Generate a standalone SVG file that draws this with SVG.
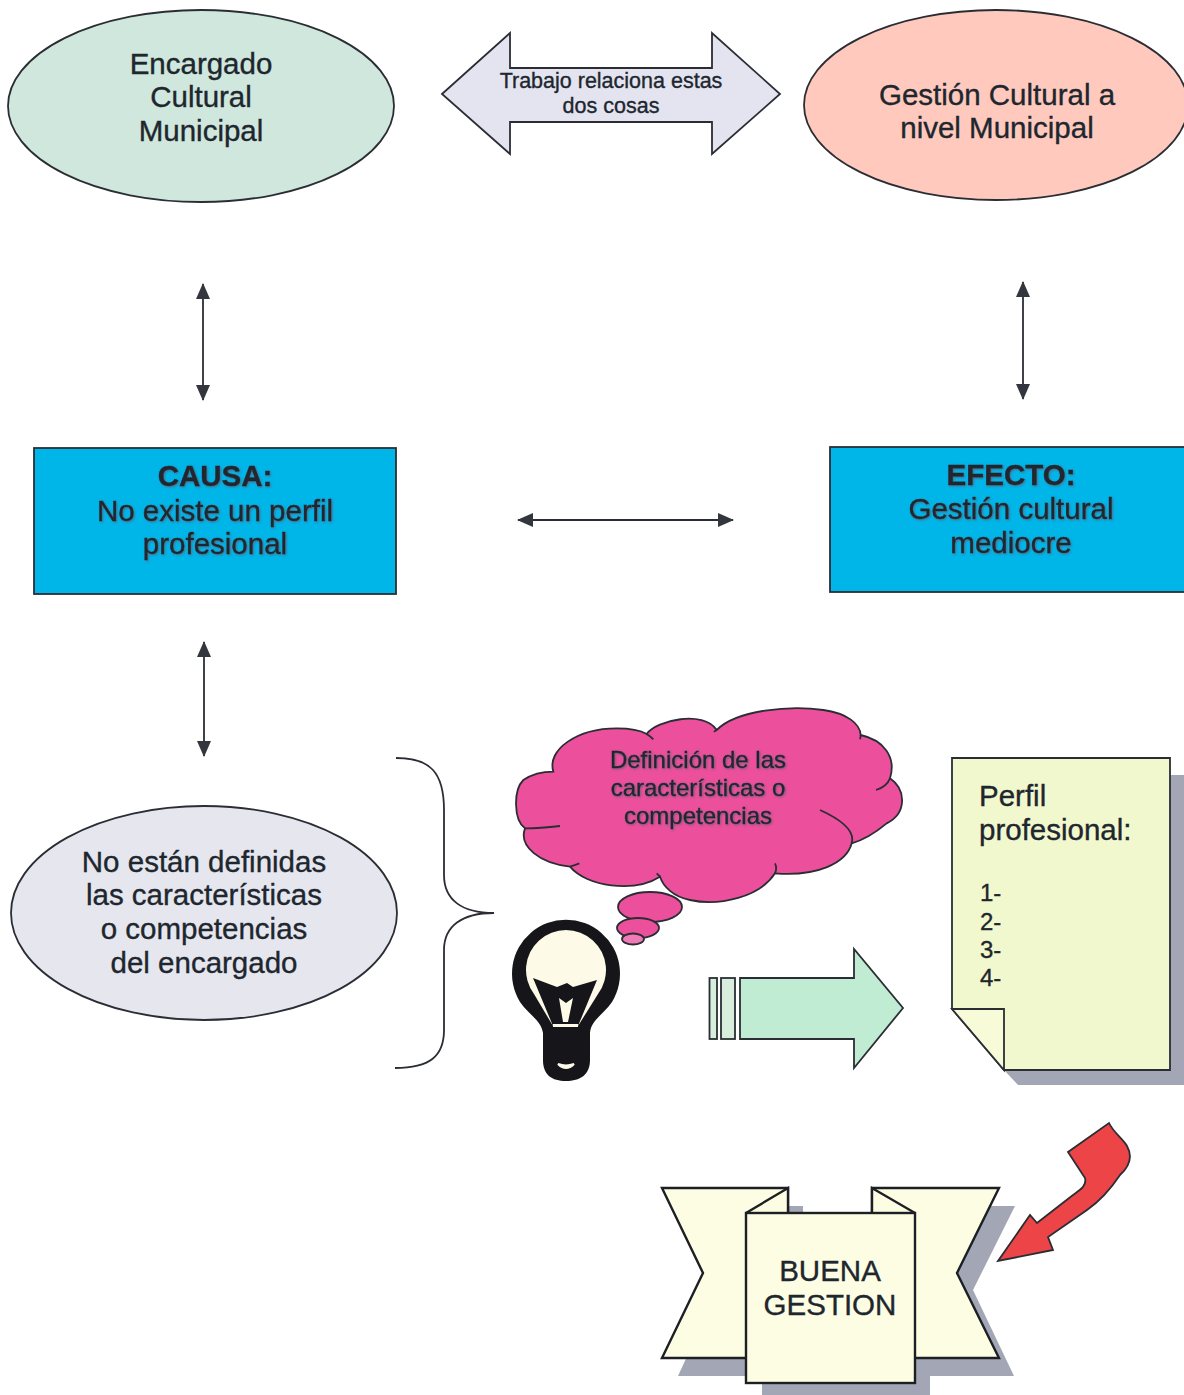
<svg xmlns="http://www.w3.org/2000/svg" width="1184" height="1395" viewBox="0 0 1184 1395">
<defs>
<style>
text{font-family:"Liberation Sans",Arial,sans-serif;fill:#20262e;text-anchor:middle;stroke:#20262e;stroke-width:.35px}
.o{stroke:#2a2e34;stroke-width:1.8;stroke-linejoin:miter}
.t{stroke:#1c1f24;stroke-width:2.4;stroke-linejoin:miter}
.c{fill:none;stroke:#2a2e34;stroke-width:1.8}
.l{font-size:29.5px}
.s{font-size:21.5px}
.n{font-size:24px}
.sh{filter:url(#blur)}
.shadow{fill:#a3a7b5}
</style>
<filter id="blur" x="-10%" y="-20%" width="120%" height="140%"><feDropShadow dx="1" dy="1" stdDeviation="1" flood-color="#5a5a70" flood-opacity=".8"/></filter>
<marker id="a" markerWidth="18" markerHeight="14" refX="15" refY="7" orient="auto-start-reverse" markerUnits="userSpaceOnUse"><path d="M0 0L16 7L0 14Z" fill="#33373d"/></marker>
</defs>
<rect width="1184" height="1395" fill="#fff"/>

<g id="connectors">
<line class="c" x1="203" y1="284" x2="203" y2="400" marker-start="url(#a)" marker-end="url(#a)"/>
<line class="c" x1="1023" y1="282" x2="1023" y2="399" marker-start="url(#a)" marker-end="url(#a)"/>
<line class="c" x1="518" y1="520" x2="733" y2="520" marker-start="url(#a)" marker-end="url(#a)"/>
<line class="c" x1="204" y1="642" x2="204" y2="756" marker-start="url(#a)" marker-end="url(#a)"/>
<path class="c" d="M396 758C430 758 444 772 444 810V875C444 900 462 913 494 913C462 913 444 926 444 950V1030C444 1056 430 1068 395 1068"/>
</g>

<g id="encargado">
<ellipse class="o" cx="201" cy="106" rx="193" ry="96" fill="#cfe7dc"/>
<text class="l"><tspan x="201" y="74">Encargado</tspan><tspan x="201" y="107">Cultural</tspan><tspan x="201" y="141">Municipal</tspan></text>
</g>

<g id="trabajo">
<path class="o" d="M442 94L510 33V68H712V33L780 94L712 154V122H510V154Z" fill="#e4e4f0"/>
<text class="s"><tspan x="611" y="88">Trabajo relaciona estas</tspan><tspan x="611" y="113">dos cosas</tspan></text>
</g>

<g id="gestion">
<ellipse class="o" cx="996" cy="105" rx="192" ry="95" fill="#ffcabd"/>
<text class="l"><tspan x="997" y="105">Gestión Cultural a</tspan><tspan x="997" y="138">nivel Municipal</tspan></text>
</g>

<g id="causa">
<rect class="o" x="34" y="448" width="362" height="146" fill="#00b5e8"/>
<text class="l sh"><tspan x="215" y="486" font-weight="bold">CAUSA:</tspan><tspan x="215" y="521">No existe un perfil</tspan><tspan x="215" y="554">profesional</tspan></text>
</g>

<g id="efecto">
<rect class="o" x="830" y="447" width="360" height="145" fill="#00b5e8"/>
<text class="l sh"><tspan x="1011" y="485" font-weight="bold">EFECTO:</tspan><tspan x="1011" y="519">Gestión cultural</tspan><tspan x="1011" y="553">mediocre</tspan></text>
</g>

<g id="no-definidas">
<ellipse class="o" cx="204" cy="913" rx="193" ry="107" fill="#e6e6ef"/>
<text class="l"><tspan x="204" y="872">No están definidas</tspan><tspan x="204" y="905">las características</tspan><tspan x="204" y="939">o competencias</tspan><tspan x="204" y="973">del encargado</tspan></text>
</g>

<g id="nube">
<g transform="translate(490 700) scale(.33333)">
<path fill="#ec4f9c" stroke="#2a2e34" stroke-width="5.400" d="M190 215C170 150 260 85 380 85C420 85 450 90 470 102C500 60 640 30 680 90C740 30 900 15 1000 30C1070 40 1110 70 1112 105C1180 120 1220 170 1200 235C1250 270 1250 340 1190 370C1160 395 1120 420 1085 430C1070 490 980 530 855 520C810 590 690 620 600 600C550 590 520 560 510 530C430 580 290 560 240 500C150 490 85 440 105 385C70 360 70 270 100 240C130 220 160 215 190 215Z"/>
<path fill="none" stroke="#2a2e34" stroke-width="5.400" d="M470 102Q480 108 490 118M680 90Q675 92 672 96M1112 105Q1112 112 1110 118M1200 235Q1190 260 1158 270M1085 430Q1100 380 990 330M855 520Q862 505 855 490M510 530Q505 525 500 520M240 500Q250 497 268 490M105 385Q150 385 210 378"/>
</g>
<ellipse class="o" cx="650" cy="907" rx="32" ry="15" fill="#ec4f9c"/>
<ellipse class="o" cx="638" cy="928" rx="21" ry="10" fill="#ec4f9c"/>
<ellipse class="o" cx="633" cy="939" rx="11" ry="5.500" fill="#f07ab5"/>
<text class="sh" style="font-size:24px"><tspan x="698" y="768">Definición de las</tspan><tspan x="698" y="796">características o</tspan><tspan x="698" y="824">competencias</tspan></text>
</g>

<g id="bombilla">
<path d="M520 1002A54 54 0 1 1 612 1002C603 1015 591 1020 590 1033V1060C590 1075 580 1081 566 1081C552 1081 543 1075 543 1060V1033C541 1020 529 1015 520 1002Z" fill="#16161a"/>
<path d="M534 994A40 40 0 1 1 598 994L578 1026H553Z" fill="#fdfbe8"/>
<path d="M533 978L557 987L567 983L573 987L597 980L578 1026H553Z" fill="#16161a"/>
<path d="M559 998L566 1003L573 998L568 1022H563Z" fill="#fdfbe8"/>
<rect x="553" y="1024" width="25" height="3" fill="#fdfbe8"/>
<path d="M558 1064Q566 1072 574 1064Q566 1067 558 1064Z" fill="#fdfbe8" stroke="#fdfbe8" stroke-width="2"/>
</g>

<g id="flecha-verde">
<rect class="o" x="709.500" y="978" width="7.500" height="61" fill="#d8eedd"/>
<rect class="o" x="721" y="978" width="14" height="61" fill="#d8eedd"/>
<path class="o" d="M740 978H854V949L903 1008L854 1068V1039H740Z" fill="#c0ecd3"/>
</g>

<g id="perfil">
<path class="shadow" d="M1170 775H1184V1085H1018L1004 1070H1170Z"/>
<path class="o" d="M952 758H1170V1070H1004L952 1009Z" fill="#f2f8cd"/>
<path class="o" d="M952 1009H1004V1070Z" fill="#f7fbd8"/>
<text style="text-anchor:start;font-size:29.500px"><tspan x="979" y="806">Perfil</tspan><tspan x="979" y="840">profesional:</tspan></text>
<text class="n" style="text-anchor:start"><tspan x="980" y="901">1-</tspan><tspan x="980" y="930">2-</tspan><tspan x="980" y="958">3-</tspan><tspan x="980" y="986">4-</tspan></text>
</g>

<g id="buena-gestion">
<path class="shadow" d="M788 1206H803V1220H788ZM950 1206H1015L973 1290L1014 1376H678L690 1350H950ZM762 1376H930V1395H762Z"/>
<path class="t" d="M662 1188H788V1358H662L703 1273Z" fill="#fdfde3"/>
<path class="t" d="M872 1188H999L957 1273L999 1358H872Z" fill="#fdfde3"/>
<path class="t" d="M746 1213L788 1188V1213M915 1213L872 1188V1213" fill="#fdfde3"/>
<rect class="t" x="746" y="1213" width="169" height="170" fill="#fdfde3"/>
<text class="l"><tspan x="830" y="1281">BUENA</tspan><tspan x="830" y="1315">GESTION</tspan></text>
</g>

<g id="flecha-roja">
<path class="o" d="M1068 1152L1109 1123C1113 1132 1124 1140 1127 1146C1132 1155 1131 1165 1120 1175C1110 1190 1100 1201 1087 1210L1048 1237L1053 1250L998 1261L1030 1215L1037 1223L1073 1195C1080 1190 1087 1186 1085 1178Z" fill="#ec4447"/>
</g>
</svg>
